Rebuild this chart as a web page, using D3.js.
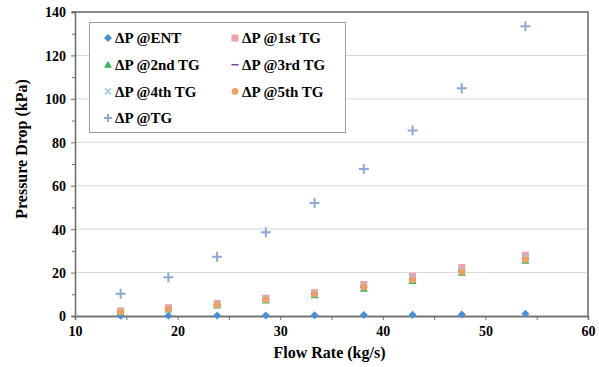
<!DOCTYPE html>
<html>
<head>
<meta charset="utf-8">
<script src="https://cdn.jsdelivr.net/npm/d3@7/dist/d3.min.js"></script>
<style>
  html, body { margin: 0; padding: 0; background: #fff; }
  svg { display: block; }
</style>
</head>
<body>
<svg id="chart" width="599" height="367"></svg>
<script>
const flowRate = [14.45, 19.1, 23.85, 28.6, 33.35, 38.15, 42.9, 47.7, 53.9];
const dpENT = [0.1, 0.15, 0.2, 0.25, 0.35, 0.45, 0.55, 0.7, 1.0];
const dp1st = [2.4, 3.8, 5.8, 8.2, 10.8, 14.5, 18.3, 22.3, 28.0];
const dp2nd = [1.5, 3.0, 4.8, 7.1, 9.6, 12.6, 16.1, 19.9, 25.4];
const dp3rd = [1.9, 3.3, 5.2, 7.6, 10.1, 13.2, 16.8, 20.6, 26.2];
const dp4th = [2.0, 3.4, 5.4, 7.8, 10.3, 13.5, 17.2, 21.0, 26.8];
const dp5th = [1.8, 3.2, 5.1, 7.5, 10.0, 13.1, 16.6, 20.4, 25.9];
const dpTG = [10.2, 17.8, 27.3, 38.6, 52.0, 67.7, 85.4, 104.9, 133.4];
const seriesNames = ["\u0394P @ENT", "\u0394P @1st TG", "\u0394P @2nd TG", "\u0394P @3rd TG", "\u0394P @4th TG", "\u0394P @5th TG", "\u0394P @TG"];
const xTicks = [10, 20, 30, 40, 50, 60];
const yTicks = [0, 20, 40, 60, 80, 100, 120, 140];

const seriesValues = [dpENT, dp1st, dp2nd, dp3rd, dp4th, dp5th, dpTG];
const colors = ["#4a8fd6", "#e8a4a8", "#3cb35a", "#7a3fa0", "#9cc8e4", "#f0a060", "#8ea8d8"];
const shapes = ["diamond", "square", "triangle", "dash", "x", "circle", "plus"];
const FONT = "'Liberation Serif', 'Times New Roman', serif";

const svg = d3.select("#chart");
const L = 75, R = 588, T = 12, B = 316;
const x = d3.scaleLinear().domain([10, 60]).range([L, R]);
const y = d3.scaleLinear().domain([0, 140]).range([B, T]);

// gridlines
svg.append("g").selectAll("line").data(yTicks.filter(d => d > 0 && d < 140)).join("line")
  .attr("x1", L).attr("x2", R).attr("y1", d => y(d)).attr("y2", d => y(d))
  .attr("stroke", "#d9d9d9").attr("stroke-width", 1);

// plot border top/right
svg.append("line").attr("x1", L - 3).attr("x2", R).attr("y1", T).attr("y2", T).attr("stroke", "#8c8c8c").attr("stroke-width", 2);
svg.append("line").attr("x1", R).attr("x2", R).attr("y1", T - 1).attr("y2", B).attr("stroke", "#8c8c8c").attr("stroke-width", 2);

// axes
const yAxis = svg.append("g").attr("transform", `translate(${L},0)`)
  .call(d3.axisLeft(y).tickValues(yTicks).tickSize(4).tickPadding(5).tickFormat(d3.format("d")));
const yMinor = svg.append("g").attr("transform", `translate(${L},0)`)
  .call(d3.axisLeft(y).tickValues(d3.range(10, 140, 20)).tickSize(3).tickFormat(""));
const xAxis = svg.append("g").attr("transform", `translate(0,${B})`)
  .call(d3.axisBottom(x).tickValues(xTicks).tickSize(4).tickPadding(6).tickFormat(d3.format("d")));
const xMinor = svg.append("g").attr("transform", `translate(0,${B})`)
  .call(d3.axisBottom(x).tickValues(d3.range(15, 60, 10)).tickSize(4).tickFormat(""));
[yAxis, yMinor, xAxis, xMinor].forEach(g => {
  g.attr("font-family", FONT).attr("font-size", 14);
  g.selectAll("path.domain").attr("stroke", "#6e6e6e").attr("stroke-width", 1.3);
  g.selectAll(".tick line").attr("stroke", "#6e6e6e");
  g.selectAll("text").attr("font-family", FONT).attr("font-weight", "bold").attr("font-size", 14).attr("fill", "#000");
});
yAxis.selectAll("text").attr("dy", "0.35em");

// axis titles
svg.append("text").attr("x", (L + R) / 2 - 2).attr("y", 358).attr("text-anchor", "middle")
  .attr("font-family", FONT).attr("font-weight", "bold").attr("font-size", 16).text("Flow Rate (kg/s)");
svg.append("text").attr("transform", `translate(27,${(T + B) / 2 - 15}) rotate(-90)`).attr("text-anchor", "middle")
  .attr("font-family", FONT).attr("font-weight", "bold").attr("font-size", 16).text("Pressure Drop (kPa)");

// marker drawer
function drawMarker(g, shape, color, cx, cy, big) {
  switch (shape) {
    case "diamond":
      g.append("path").attr("d", `M${cx},${cy - 4}L${cx + 4},${cy}L${cx},${cy + 4}L${cx - 4},${cy}Z`).attr("fill", color);
      break;
    case "square":
      g.append("rect").attr("x", cx - 3.5).attr("y", cy - 3.5).attr("width", 7).attr("height", 7).attr("fill", color);
      break;
    case "triangle":
      g.append("path").attr("d", `M${cx},${cy - 4}L${cx + 4},${cy + 3}L${cx - 4},${cy + 3}Z`).attr("fill", color);
      break;
    case "dash":
      g.append("line").attr("x1", cx - 3.5).attr("x2", cx + 3.5).attr("y1", cy).attr("y2", cy).attr("stroke", color).attr("stroke-width", 1.5);
      break;
    case "x":
      g.append("path").attr("d", `M${cx - 3},${cy - 3}L${cx + 3},${cy + 3}M${cx - 3},${cy + 3}L${cx + 3},${cy - 3}`).attr("stroke", color).attr("stroke-width", 1.5);
      break;
    case "circle":
      g.append("circle").attr("cx", cx).attr("cy", cy).attr("r", 3.3).attr("fill", color);
      break;
    case "plus":
      const s = big ? 5 : 4;
      g.append("path").attr("d", `M${cx - s},${cy}L${cx + s},${cy}M${cx},${cy - s}L${cx},${cy + s}`).attr("stroke", color).attr("stroke-width", 2);
      break;
  }
}

// points (drawn in order)
const pts = svg.append("g");
seriesValues.forEach((vals, si) => {
  vals.forEach((v, i) => drawMarker(pts, shapes[si], colors[si], x(flowRate[i]), y(v), true));
});

// legend
const lg = svg.append("g");
lg.append("rect").attr("x", 89.5).attr("y", 22.5).attr("width", 256).attr("height", 110)
  .attr("fill", "#fff").attr("stroke", "#a0a0a0").attr("stroke-width", 1);
seriesNames.forEach((name, i) => {
  const col = i % 2, row = Math.floor(i / 2);
  const mx = col === 0 ? 108 : 235;
  const my = 38 + row * 26.7;
  drawMarker(lg, shapes[i], colors[i], mx, my, false);
  lg.append("text").attr("x", mx + 7).attr("y", my).attr("dy", "0.35em")
    .attr("font-family", FONT).attr("font-weight", "bold").attr("font-size", 15).attr("fill", "#000").text(name);
});
</script>
</body>
</html>
